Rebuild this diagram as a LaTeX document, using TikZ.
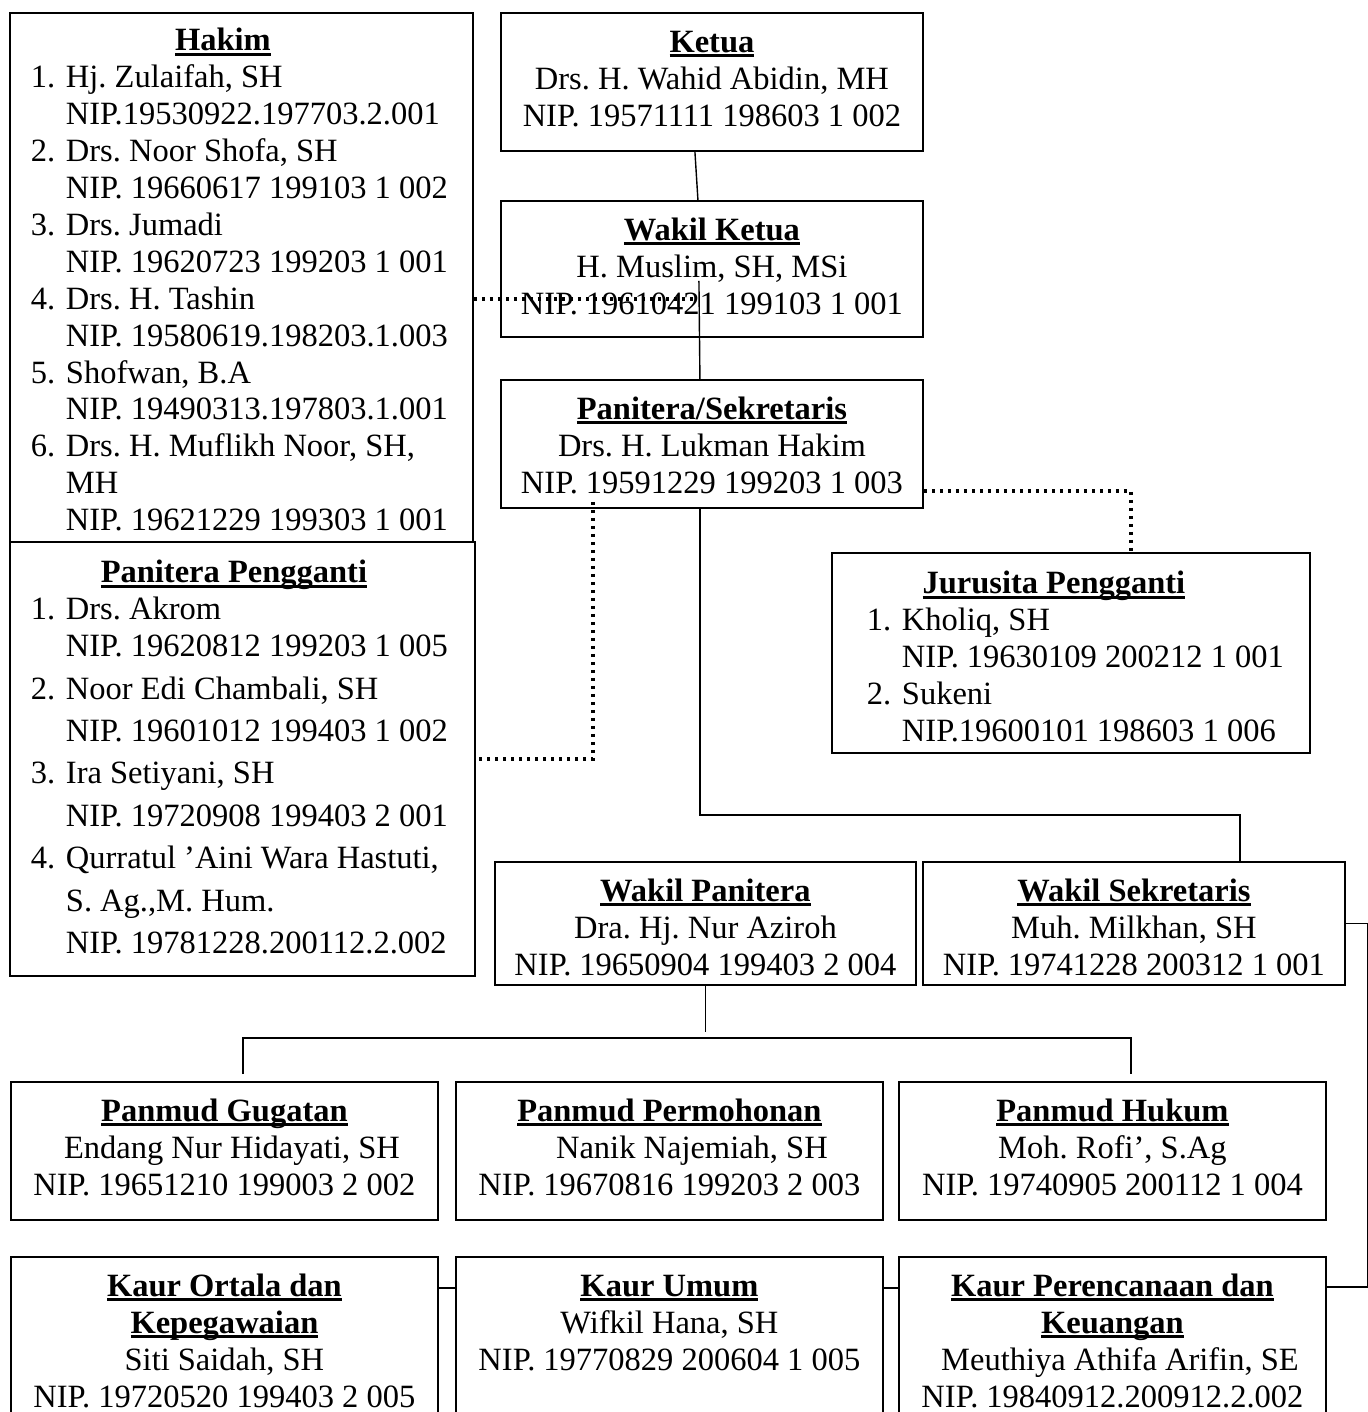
\documentclass[tikz,border=0pt]{standalone}
\usepackage{fontspec}
\setmainfont{Liberation Serif}
\frenchspacing

% bold, thickly underlined heading
\newcommand{\judul}[1]{\leavevmode\setbox0\hbox{\bfseries #1}\rlap{\rule[-0.1cm]{\wd0}{0.06cm}}\box0}
% box content, top aligned
\newcommand{\isi}[3]{\parbox[t][#2][t]{#1}{\centering\rule{0pt}{0.79cm}#3}}
% numbered list line
\newcommand{\butir}[2]{\hspace*{0.42cm}\makebox[0.7cm][l]{#1}#2}

\tikzset{
  kotak/.style={draw, line width=1.1pt, anchor=north west, inner sep=0pt,
    font=\fontsize{18.5}{21}\selectfont},
  garis/.style={line width=0.8pt},
  titik/.style={line width=2.1pt, dash pattern=on 0.07cm off 0.09cm},
}

\begin{document}
\begin{tikzpicture}[x=0.02cm,y=-0.02cm]
  \useasboundingbox (0,0) rectangle (1368,1412);
  \clip (0,0) rectangle (1368,1412);

  % Hakim & Panitera Pengganti
  \node[kotak] (hakim) at (9,12) {\parbox[t][10.58cm][t]{9.26cm}{\raggedright
    \rule{0pt}{0.76cm}\makebox[8.52cm]{\judul{Hakim}}\\
    \butir{1.}{Hj. Zulaifah, SH}\\
    \butir{}{NIP.19530922.197703.2.001}\\
    \butir{2.}{Drs. Noor Shofa, SH}\\
    \butir{}{NIP. 19660617 199103 1 002}\\
    \butir{3.}{Drs. Jumadi}\\
    \butir{}{NIP. 19620723 199203 1 001}\\
    \butir{4.}{Drs. H. Tashin}\\
    \butir{}{NIP. 19580619.198203.1.003}\\
    \butir{5.}{Shofwan, B.A}\\
    \butir{}{NIP. 19490313.197803.1.001}\\
    \butir{6.}{Drs. H. Muflikh Noor, SH,}\\
    \butir{}{MH}\\
    \butir{}{NIP. 19621229 199303 1 001}}};
  \node[kotak] (pengganti) at (9,541) {\parbox[t][8.68cm][t]{9.30cm}{\raggedright
    \rule{0pt}{0.82cm}\makebox[8.96cm]{\judul{Panitera Pengganti}}\\
    \butir{1.}{Drs. Akrom}\\
    \butir{}{NIP. 19620812 199203 1 005}\\[0.11cm]
    \butir{2.}{Noor Edi Chambali, SH}\\[0.11cm]
    \butir{}{NIP. 19601012 199403 1 002}\\[0.11cm]
    \butir{3.}{Ira Setiyani, SH}\\[0.11cm]
    \butir{}{NIP. 19720908 199403 2 001}\\[0.11cm]
    \butir{4.}{Qurratul 'Aini Wara Hastuti,}\\[0.11cm]
    \butir{}{S. Ag.,M. Hum.}\\[0.11cm]
    \butir{}{NIP. 19781228.200112.2.002}}};

  % Pimpinan
  \node[kotak] (ketua) at (500,12) {\isi{8.44cm}{2.76cm}{\judul{Ketua}\\
    Drs. H. Wahid Abidin, MH\\ NIP. 19571111 198603 1 002}};
  \node[kotak] (wakil) at (500,200) {\isi{8.44cm}{2.72cm}{\judul{Wakil Ketua}\\
    H. Muslim, SH, MSi\\ NIP. 19610421 199103 1 001}};
  \node[kotak] (panitera) at (500,379) {\isi{8.44cm}{2.56cm}{\judul{Panitera/Sekretaris}\\
    Drs. H. Lukman Hakim\\ NIP. 19591229 199203 1 003}};

  % Jurusita
  \node[kotak] (jurusita) at (831,552) {\parbox[t][4cm][t]{9.56cm}{\raggedright
    \rule{0pt}{0.82cm}\makebox[8.88cm]{\judul{Jurusita Pengganti}}\\
    \hspace*{0.28cm}\butir{1.}{Kholiq, SH}\\
    \hspace*{0.28cm}\butir{}{NIP. 19630109 200212 1 001}\\
    \hspace*{0.28cm}\butir{2.}{Sukeni}\\
    \hspace*{0.28cm}\butir{}{NIP.19600101 198603 1 006}}};

  % Wakil Panitera & Wakil Sekretaris
  \node[kotak] (wpanitera) at (494,861) {\isi{8.42cm}{2.46cm}{\judul{Wakil Panitera}\\
    Dra. Hj. Nur Aziroh\\ NIP. 19650904 199403 2 004}};
  \node[kotak] (wsekretaris) at (922,861) {\isi{8.44cm}{2.46cm}{\judul{Wakil Sekretaris}\\
    Muh. Milkhan, SH\\ NIP. 19741228 200312 1 001}};

  % Panmud
  \node[kotak] (gugatan) at (10,1081) {\isi{8.54cm}{2.76cm}{\judul{Panmud Gugatan}\\
    \hspace*{0.3cm}Endang Nur Hidayati, SH\\ NIP. 19651210 199003 2 002}};
  \node[kotak] (permohonan) at (455,1081) {\isi{8.54cm}{2.76cm}{\judul{Panmud Permohonan}\\
    \hspace*{0.9cm}Nanik Najemiah, SH\\ NIP. 19670816 199203 2 003}};
  \node[kotak] (phukum) at (898,1081) {\isi{8.54cm}{2.76cm}{\judul{Panmud Hukum}\\
    Moh. Rofi’, S.Ag\\ NIP. 19740905 200112 1 004}};

  % Kaur (open at the bottom)
  \node[kotak] (ortala) at (10,1256) {\isi{8.54cm}{3.8cm}{\judul{Kaur Ortala dan}\\
    \judul{Kepegawaian}\\ Siti Saidah, SH\\ NIP. 19720520 199403 2 005}};
  \node[kotak] (umum) at (455,1256) {\isi{8.54cm}{3.8cm}{\judul{Kaur Umum}\\
    Wifkil Hana, SH\\ NIP. 19770829 200604 1 005}};
  \node[kotak] (rencana) at (898,1256) {\isi{8.54cm}{3.8cm}{\judul{Kaur Perencanaan dan}\\
    \judul{Keuangan}\\ \hspace*{0.3cm}Meuthiya Athifa Arifin, SE\\ NIP. 19840912.200912.2.002}};

  % Garis komando
  \draw[garis] ([xshift=-0.34cm]ketua.south) -- ([xshift=-0.28cm]wakil.north);
  \draw[garis] ([xshift=-0.26cm,yshift=-0.24cm]wakil.center) -- ([xshift=-0.24cm]panitera.north);
  \draw[garis] ([xshift=-0.24cm]panitera.south) -- ++(0,306) -| ([xshift=2.12cm]wsekretaris.north);
  \draw[garis] (wpanitera.south) -- ++(0,46);
  \draw[garis] ([xshift=0.37cm,yshift=0.14cm]gugatan.north) -- ++(0,-36)
    -| ([xshift=0.37cm,yshift=0.14cm]phukum.north);
  \draw[garis] (wsekretaris.east) -- ++(22,0) |- ([yshift=-0.62cm]rencana.north east);
  \draw[garis] ([yshift=-0.64cm]ortala.north east) -- ([yshift=-0.64cm]umum.north west);
  \draw[garis] ([yshift=-0.64cm]umum.north east) -- ([yshift=-0.64cm]rencana.north west);

  % Garis koordinasi
  \draw[titik] ([yshift=-0.43cm]hakim.east) -- ++(221,0);
  \draw[titik] ([yshift=-0.94cm]panitera.east) -| ([xshift=1.2cm]jurusita.north);
  \draw[titik] ([xshift=-2.38cm,yshift=0.14cm]panitera.south) |- (pengganti.east);
\end{tikzpicture}
\end{document}
